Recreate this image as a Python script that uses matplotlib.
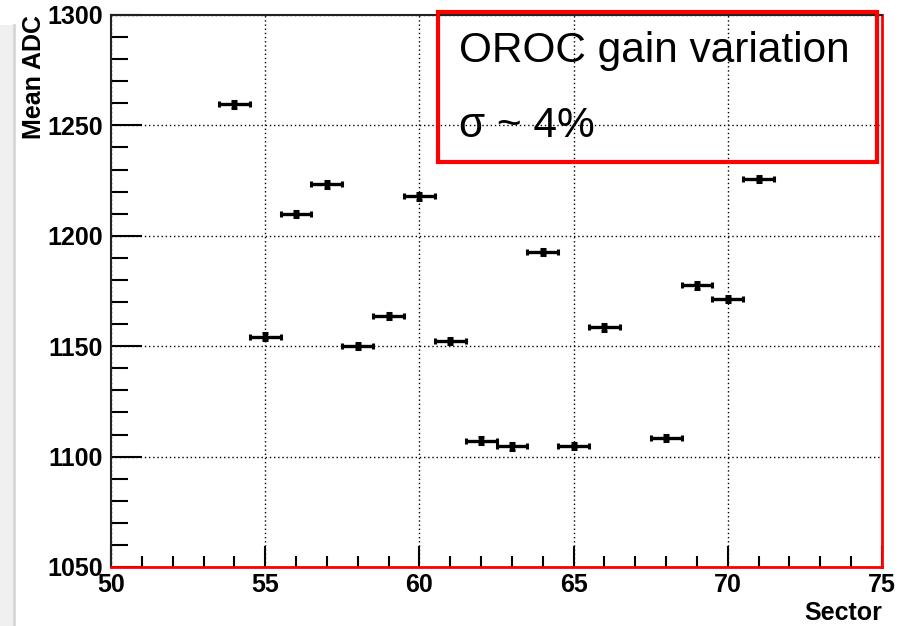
import matplotlib
matplotlib.use("Agg")
import matplotlib.pyplot as plt
from matplotlib.ticker import MultipleLocator
from matplotlib.patches import Rectangle
from matplotlib.lines import Line2D

sectors = [54, 55, 56, 57, 58, 59, 60, 61, 62, 63, 64, 65, 66, 68, 69, 70, 71]
mean_adc = [1259.5, 1154.2, 1209.8, 1223.4, 1150.0, 1163.7, 1218.0, 1152.4,
            1107.2, 1104.6, 1192.6, 1104.9, 1158.6, 1108.4, 1177.7, 1171.3, 1225.6]
y_err = [1.5, 1.6, 1.4, 1.6, 1.4, 1.4, 1.6, 1.5, 1.5, 1.4, 1.5, 1.4, 1.5, 1.4, 1.6, 1.5, 1.4]
x_err = [0.5] * len(sectors)

plt.rcParams["font.family"] = ["Liberation Sans", "DejaVu Sans"]
plt.rcParams["font.weight"] = "bold"

fig = plt.figure(figsize=(9.12, 6.26), dpi=100)
fig.patch.set_facecolor("white")

# grey side strip (canvas remnant)
fig.patches.append(Rectangle((0, 0), 14 / 912, 1 - 25 / 626, transform=fig.transFigure,
                             facecolor="#f0f0f0", edgecolor="none", zorder=0))
fig.lines.append(Line2D([14 / 912, 14 / 912], [0, 1 - 25 / 626], transform=fig.transFigure,
                        color="#d6d6d6", lw=2))

ax = fig.add_axes([111 / 912, 1 - 567 / 626, 771 / 912, 552 / 626])
ax.set_xlim(50, 75)
ax.set_ylim(1050, 1300)

ax.errorbar(sectors, mean_adc, xerr=x_err, yerr=y_err, fmt="s", ms=2.5,
            color="black", ecolor="black", elinewidth=2.4, capsize=2.5, capthick=2.2, zorder=5)

ax.xaxis.set_major_locator(MultipleLocator(5))
ax.xaxis.set_minor_locator(MultipleLocator(1))
ax.yaxis.set_major_locator(MultipleLocator(50))
ax.yaxis.set_minor_locator(MultipleLocator(10))

ax.grid(True, which="major", linestyle=(0, (1, 2)), color="black", lw=1)

ax.tick_params(axis="both", which="both", direction="in", top=False, right=False,
               width=1.5, labelsize=18)
ax.tick_params(axis="x", which="major", length=15, pad=4)
ax.tick_params(axis="x", which="minor", length=8)
ax.tick_params(axis="y", which="major", length=22, pad=6)
ax.tick_params(axis="y", which="minor", length=12)

for side in ["left", "top"]:
    ax.spines[side].set_color("#222222")
    ax.spines[side].set_linewidth(1.5)
for side in ["bottom", "right"]:
    ax.spines[side].set_color("#ff0000")
    ax.spines[side].set_linewidth(2)

ax.set_xlabel("Sector", fontweight="bold", fontsize=18)
ax.xaxis.set_label_coords(1.0, -0.062)
ax.xaxis.label.set_horizontalalignment("right")
ax.set_ylabel("Mean ADC", fontweight="bold", fontsize=18)
ax.yaxis.set_label_coords(-0.1, 1.0)
ax.yaxis.label.set_verticalalignment("center")
ax.yaxis.label.set_horizontalalignment("right")

# annotation box
fig.patches.append(Rectangle((438 / 912, 1 - 162 / 626), 439 / 912, 150 / 626,
                             transform=fig.transFigure, facecolor="none",
                             edgecolor="#ff0000", lw=3, zorder=10))
fig.text(459 / 912, 1 - 62 / 626, "OROC gain variation", fontweight="normal",
         fontsize=30.5, color="black", ha="left", va="baseline", zorder=11)
fig.text(459 / 912, 1 - 137 / 626, "σ ~ 4%", fontweight="normal",
         fontsize=30.5, color="black", ha="left", va="baseline", zorder=11)

fig.savefig("out.png", dpi=100)
